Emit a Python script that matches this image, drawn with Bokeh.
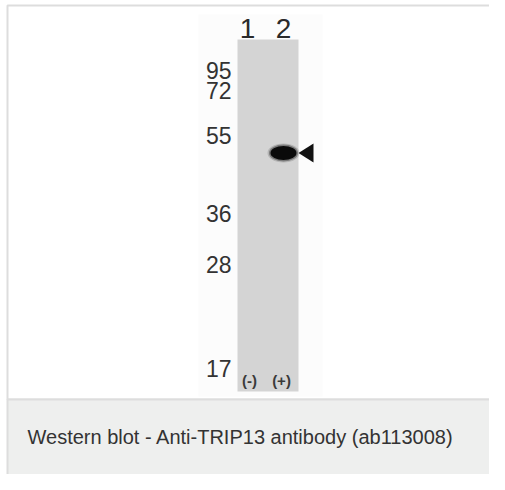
import numpy as np
from bokeh.plotting import figure
from bokeh.models import Range1d
from bokeh.core.properties import value
from bokeh.embed import file_html
from bokeh.resources import INLINE

# ---- data ----
lane_labels = ["1", "2"]
treatments = ["(-)", "(+)"]
mw_labels = ["95", "72", "55", "36", "28", "17"]
mw_kda = [95, 72, 55, 36, 28, 17]
mw_ypix = [70, 90, 135, 213, 264, 368]   # ladder positions on the membrane
band_lane = 2
band_kda = 50
caption = "Western blot - Anti-TRIP13 antibody (ab113008)"

W, H = 489, 474
p = figure(width=W, height=H, output_backend="svg", toolbar_location=None,
           x_range=Range1d(0, W), y_range=Range1d(H, 0),
           min_border=0, outline_line_color=None)
p.axis.visible = False
p.grid.visible = False
p.background_fill_color = "white"
p.border_fill_color = "white"

FONT = value("Liberation Sans")
NARROW = value("'Liberation Sans Narrow', 'Liberation Sans'")

# frame box
p.quad(left=[7], right=[520], top=[5], bottom=[399], fill_color="white",
       line_color="#dddddd", line_width=2)
# caption area
p.quad(left=[7], right=[520], top=[399], bottom=[520], fill_color="#eeefee",
       line_color="#dddddd", line_width=2)

# faint scan background
p.quad(left=[198], right=[322], top=[14], bottom=[396], fill_color="#fcfcfc", line_color=None)

# membrane lanes
lane_x = {1: 248, 2: 283}
p.quad(left=[237], right=[298], top=[39], bottom=[391], fill_color="#d4d4d4", line_color=None)

# band position via log-MW interpolation on ladder
ly = np.log(np.array(mw_kda, dtype=float))
band_y = float(np.interp(np.log(band_kda), ly[::-1], np.array(mw_ypix)[::-1]))
bx = lane_x[band_lane]
for w, h, a in [(32, 19, 0.15), (29, 17, 0.35), (26, 14, 1.0)]:
    p.ellipse(x=[bx], y=[band_y], width=w, height=h, fill_color="#0a0a0a",
              fill_alpha=a, line_color=None)

# arrowhead
p.patch(x=[298, 313, 313], y=[band_y, band_y - 9.5, band_y + 9.5], fill_color="#111111", line_color=None)

# lane numbers
p.text(x=[lane_x[1] - 1, lane_x[2]], y=[28, 28], text=lane_labels, text_font=NARROW,
       text_font_size="28px", text_align="center", text_baseline="middle", text_color="#2a2a2a")

# ladder labels
p.text(x=[231] * len(mw_labels), y=mw_ypix, text=mw_labels, text_font=NARROW,
       text_font_size="23px", text_align="right", text_baseline="middle", text_color="#333333")

# treatments
p.text(x=[lane_x[1] + 1, lane_x[2] - 2], y=[380, 380], text=treatments, text_font=NARROW,
       text_font_size="15px", text_font_style="bold", text_align="center",
       text_baseline="middle", text_color="#3a3a3a")

# caption
p.text(x=[27], y=[436], text=[caption], text_font=FONT, text_font_size="20px",
       text_align="left", text_baseline="middle", text_color="#333333")

open("out.html", "w").write(file_html(p, INLINE))
